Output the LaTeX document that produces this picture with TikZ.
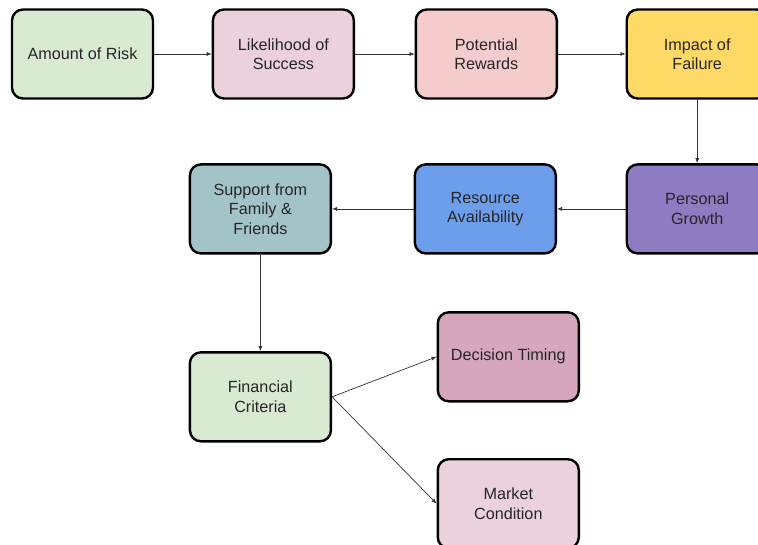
\documentclass[tikz,border=0pt]{standalone}
\usepackage{fontspec}
\setmainfont{Liberation Sans}
\usetikzlibrary{arrows.meta,positioning}
\definecolor{RiskGreen}{HTML}{D9EAD3}
\definecolor{SoftPink}{HTML}{EAD1DC}
\definecolor{RewardPink}{HTML}{F4CCCC}
\definecolor{FailYellow}{HTML}{FFD966}
\definecolor{GrowthPurple}{HTML}{8E7CC3}
\definecolor{ResourceBlue}{HTML}{6D9EEB}
\definecolor{SupportTeal}{HTML}{A2C4C9}
\definecolor{TimingMauve}{HTML}{D5A6BD}

\begin{document}
\begin{tikzpicture}[
    box/.style={draw, line width=2.4pt, rectangle, rounded corners=11pt, minimum width=141pt, minimum height=89pt, align=center, text=black!85, font=\fontsize{16.2}{19.5}\selectfont},
    arrow/.style={-{Latex[length=5pt,width=4pt]}, line width=0.7pt, draw=black!80}
  ]
    \useasboundingbox (0,0) rectangle (758pt,-544pt);
    \node[box, fill=RiskGreen] (risk) at (82.5pt,-54pt) {Amount of Risk};
    \node[box, fill=SoftPink, right=57.5pt of risk] (likelihood) {Likelihood of\\Success};
    \node[box, fill=RewardPink, right=59.5pt of likelihood] (rewards) {Potential\\Rewards};
    \node[box, fill=FailYellow, right=67.5pt of rewards] (failure) {Impact of\\Failure};
    \node[box, fill=GrowthPurple, below=63.5pt of failure] (growth) {Personal\\Growth};
    \node[box, fill=ResourceBlue, left=68.5pt of growth] (resource) {Resource\\Availability};
    \node[box, fill=SupportTeal, left=81.5pt of resource] (support) {Support from\\Family \&\\Friends};
    \node[box, fill=RiskGreen, below=96.5pt of support] (financial) {Financial\\Criteria};
    \node[box, fill=TimingMauve, right=104.5pt of financial, yshift=40pt] (timing) {Decision Timing};
    \node[box, fill=SoftPink, below=55.5pt of timing] (market) {Market\\Condition};

    \draw[arrow] (risk) -- (likelihood);
    \draw[arrow] (likelihood) -- (rewards);
    \draw[arrow] (rewards) -- (failure);
    \draw[arrow] (failure) -- (growth);
    \draw[arrow] (growth) -- (resource);
    \draw[arrow] (resource) -- (support);
    \draw[arrow] (support) -- (financial);
    \draw[arrow] (financial.east) -- (timing.west);
    \draw[arrow] (financial.east) -- (market.west);
  \end{tikzpicture}
\end{document}
